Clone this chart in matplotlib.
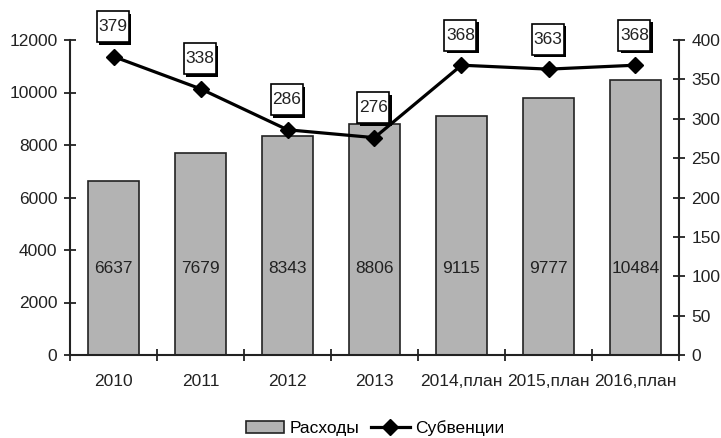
import matplotlib.pyplot as plt
import matplotlib.patheffects as pe
from matplotlib.patches import Rectangle
from matplotlib.transforms import ScaledTranslation
import numpy as np

plt.rcParams['font.family'] = ['Liberation Sans', 'DejaVu Sans']

years = ['2010', '2011', '2012', '2013', '2014,план', '2015,план', '2016,план']
expenses = [6637, 7679, 8343, 8806, 9115, 9777, 10484]
subsidies = [379, 338, 286, 276, 368, 363, 368]

fs = 12.5
fig = plt.figure(figsize=(7.21, 4.38), dpi=100)
ax = fig.add_axes([70/721, 83/438, 609/721, 315/438])
x = np.arange(len(years))

bars = ax.bar(x, expenses, width=0.575, color='#b3b3b3', edgecolor='#222222',
              linewidth=1.2, label='Расходы', zorder=2)
for xi, v in zip(x, expenses):
    ax.text(xi, 3300, str(v), ha='center', va='center', fontsize=fs, color='#222222', zorder=3)

ax.set_xlim(-0.5, len(years) - 0.5)
ax.set_ylim(0, 12000)
ax.set_yticks(range(0, 12001, 2000))
ax.set_xticks(x)
ax.set_xticklabels(years)
ax.set_xticks(np.arange(-0.5, len(years)), minor=True)
ax.tick_params(axis='x', which='major', length=0, pad=14, labelsize=fs, colors='#222222')
ax.tick_params(axis='x', which='minor', length=8, direction='inout', width=1.3, color='#222222')
ax.tick_params(axis='y', length=8, direction='inout', width=1.3, labelsize=fs,
               color='#222222', labelcolor='#222222', pad=5)
for s in ['top', 'right']:
    ax.spines[s].set_visible(False)
for s in ['left', 'bottom']:
    ax.spines[s].set_linewidth(1.5)
    ax.spines[s].set_color('#222222')

ax2 = ax.twinx()
ax2.set_ylim(0, 400)
ax2.set_yticks(range(0, 401, 50))
line, = ax2.plot(x, subsidies, color='black', lw=2.3, marker='D', markersize=8,
                 label='Субвенции', zorder=4)
ax2.tick_params(axis='y', length=8, direction='inout', width=1.3, labelsize=fs,
                color='#222222', labelcolor='#222222', pad=5)
for s in ['top', 'left', 'bottom']:
    ax2.spines[s].set_visible(False)
ax2.spines['right'].set_linewidth(1.5)
ax2.spines['right'].set_color('#222222')

# label boxes with shadow, sized in inches, placed above each point
bw, bh, dy = 0.32, 0.31, 0.30
for xi, v in zip(x, subsidies):
    tr = fig.dpi_scale_trans + ScaledTranslation(xi, v, ax2.transData)
    box = Rectangle((-bw / 2 - 0.01, dy - bh / 2), bw, bh, transform=tr, fc='white',
                    ec='black', lw=1.2, zorder=5, clip_on=False)
    box.set_path_effects([pe.SimplePatchShadow(offset=(1.8, -1.8), shadow_rgbFace='black', alpha=1.0),
                          pe.Normal()])
    ax2.add_patch(box)
    ax2.text(-0.01, dy, str(v), transform=tr, ha='center', va='center', fontsize=fs,
             color='#222222', zorder=6)

fig.legend([bars, line], ['Расходы', 'Субвенции'], loc='center', bbox_to_anchor=(0.52, 0.023),
           ncol=2, frameon=False, fontsize=fs, handlelength=2.2, columnspacing=0.7,
           handletextpad=0.3)

fig.savefig('out.png', dpi=100)
